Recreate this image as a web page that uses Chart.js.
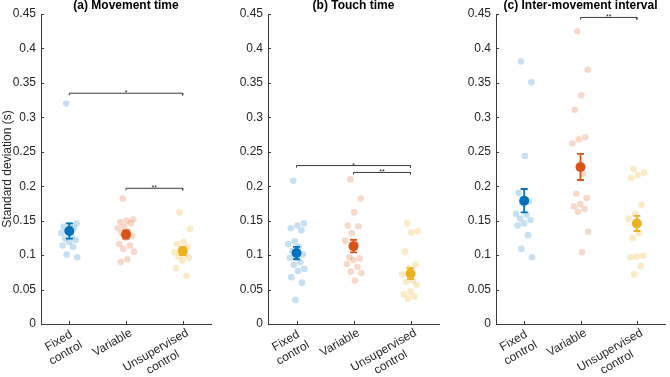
<!DOCTYPE html>
<html>
<head>
<meta charset="utf-8">
<script src="https://cdn.jsdelivr.net/npm/chart.js@4.4.0/dist/chart.umd.min.js"></script>
<style>
  body { margin: 0; background: #fff; }
  #wrap { position: relative; width: 670px; height: 377px; overflow: hidden; }
  canvas { position: absolute; top: 0; }
</style>
</head>
<body>
<div id="wrap">
  <canvas id="chartA" width="216" height="377" style="left:0px"></canvas>
  <canvas id="chartB" width="224" height="377" style="left:220px"></canvas>
  <canvas id="chartC" width="223" height="377" style="left:447px"></canvas>
</div>
<script>
// categories and panel titles
var categories = [['Fixed', 'control'], ['Variable'], ['Unsupervised', 'control']];
var titles = ['(a) Movement time', '(b) Touch time', '(c) Inter-movement interval'];

// (a) movement time, per participant SD (s)
var mtFixed = [0.320, 0.146, 0.144, 0.141, 0.139, 0.135, 0.132, 0.127, 0.124, 0.122, 0.119, 0.114, 0.112, 0.101, 0.097];
var mtVariable = [0.182, 0.152, 0.150, 0.148, 0.146, 0.141, 0.139, 0.134, 0.132, 0.128, 0.125, 0.116, 0.114, 0.109, 0.105, 0.094, 0.090];
var mtUnsup = [0.162, 0.138, 0.119, 0.116, 0.112, 0.108, 0.104, 0.101, 0.098, 0.096, 0.092, 0.081, 0.070];
var mtMeans = [0.135, 0.130, 0.106];
var mtSE = [0.011, 0.006, 0.006];
var mtBrackets = [[1, 3, 0.335, '*'], [2, 3, 0.197, '**']];

// (b) touch time
var ttFixed = [0.208, 0.146, 0.143, 0.139, 0.136, 0.120, 0.116, 0.112, 0.106, 0.101, 0.099, 0.096, 0.090, 0.086, 0.080, 0.077, 0.068, 0.060, 0.035];
var ttVariable = [0.210, 0.182, 0.162, 0.143, 0.142, 0.132, 0.121, 0.116, 0.097, 0.095, 0.093, 0.087, 0.083, 0.076, 0.074, 0.063];
var ttUnsup = [0.146, 0.135, 0.133, 0.105, 0.086, 0.081, 0.072, 0.063, 0.061, 0.057, 0.047, 0.043, 0.040, 0.037];
var ttMeans = [0.103, 0.113, 0.073];
var ttSE = [0.009, 0.009, 0.008];
var ttBrackets = [[1, 3, 0.230, '*'], [2, 3, 0.220, '**']];

// (c) inter-movement interval
var imiFixed = [0.381, 0.351, 0.244, 0.190, 0.178, 0.175, 0.160, 0.159, 0.153, 0.151, 0.146, 0.143, 0.129, 0.109, 0.097];
var imiVariable = [0.425, 0.369, 0.332, 0.311, 0.271, 0.268, 0.262, 0.218, 0.189, 0.183, 0.174, 0.171, 0.167, 0.163, 0.134, 0.104];
var imiUnsup = [0.225, 0.220, 0.216, 0.212, 0.173, 0.160, 0.153, 0.132, 0.125, 0.099, 0.098, 0.097, 0.084, 0.072];
var imiMeans = [0.179, 0.228, 0.146];
var imiSE = [0.017, 0.019, 0.011];
var imiBrackets = [[2, 3, 0.445, '**']];

var colors = ['#0072BD', '#D95319', '#EDB120'];
var lightColors = ['rgba(0,114,189,0.22)', 'rgba(217,83,25,0.22)', 'rgba(237,177,32,0.25)'];
var axisColor = '#3a3a3a';
var textColor = '#262626';
var fontFamily = "'Liberation Sans', Arial, Helvetica, sans-serif";

Chart.defaults.font.family = fontFamily;
Chart.defaults.font.size = 12;
Chart.defaults.color = textColor;

// deterministic horizontal spread of the dots
function jitter(i) {
    return ((i * 0.618034 + 0.31) % 1 - 0.5) * 0.3;
}

function makePanel(canvasId, title, groups, means, ses, brackets, axisWidth, padRight, showYTitle) {
    var datasets = [];

    // group means (drawn on top)
    datasets.push({
        type: 'scatter',
        data: means.map(function (m, i) { return { x: i + 1, y: m }; }),
        backgroundColor: colors,
        pointRadius: 5,
        pointBorderWidth: 0,
        order: 0
    });

    // significance brackets
    brackets.forEach(function (b) {
        var drop = 0.003;
        datasets.push({
            type: 'line',
            data: [{ x: b[0], y: b[2] - drop }, { x: b[0], y: b[2] }, { x: b[1], y: b[2] }, { x: b[1], y: b[2] - drop }],
            borderColor: axisColor,
            borderWidth: 1,
            pointRadius: 0,
            fill: false,
            tension: 0,
            order: 1
        });
    });

    // individual participants
    groups.forEach(function (vals, g) {
        datasets.push({
            type: 'scatter',
            data: vals.map(function (v, i) { return { x: g + 1 + jitter(i), y: v }; }),
            backgroundColor: lightColors[g],
            pointRadius: 3.3,
            pointBorderWidth: 0,
            order: 2
        });
    });

    var decor = {
        id: 'decor' + canvasId,
        afterDatasetsDraw: function (chart) {
            var ctx = chart.ctx, xs = chart.scales.x, ys = chart.scales.y;
            ctx.save();
            ctx.lineWidth = 1.8;
            means.forEach(function (m, i) {
                var px = xs.getPixelForValue(i + 1);
                var top = ys.getPixelForValue(m + ses[i]);
                var bot = ys.getPixelForValue(m - ses[i]);
                ctx.strokeStyle = colors[i];
                ctx.beginPath();
                ctx.moveTo(px, top); ctx.lineTo(px, bot);
                ctx.moveTo(px - 3.5, top); ctx.lineTo(px + 3.5, top);
                ctx.moveTo(px - 3.5, bot); ctx.lineTo(px + 3.5, bot);
                ctx.stroke();
            });
            ctx.restore();
        },
        afterDraw: function (chart) {
            var ctx = chart.ctx, xs = chart.scales.x, ys = chart.scales.y, area = chart.chartArea;
            ctx.save();
            // inward tick marks
            ctx.strokeStyle = axisColor;
            ctx.lineWidth = 1;
            ctx.beginPath();
            ys.ticks.forEach(function (t) {
                var py = Math.round(ys.getPixelForValue(t.value)) + 0.5;
                ctx.moveTo(area.left, py); ctx.lineTo(area.left + 3, py);
            });
            [1, 2, 3].forEach(function (c) {
                var px = Math.round(xs.getPixelForValue(c)) + 0.5;
                ctx.moveTo(px, area.bottom); ctx.lineTo(px, area.bottom - 3);
            });
            ctx.stroke();

            // rotated category labels
            ctx.fillStyle = textColor;
            ctx.font = '12px ' + fontFamily;
            ctx.textAlign = 'center';
            ctx.textBaseline = 'middle';
            categories.forEach(function (lines, i) {
                var px = xs.getPixelForValue(i + 1) + 5;
                var w = Math.max.apply(null, lines.map(function (l) { return ctx.measureText(l).width; }));
                ctx.save();
                ctx.translate(px, area.bottom + 8);
                ctx.rotate(-Math.PI / 6);
                lines.forEach(function (l, k) {
                    ctx.fillText(l, -w / 2, k * 14);
                });
                ctx.restore();
            });

            // stars over brackets
            ctx.font = '7px ' + fontFamily;
            ctx.textBaseline = 'alphabetic';
            brackets.forEach(function (b) {
                var px = (xs.getPixelForValue(b[0]) + xs.getPixelForValue(b[1])) / 2;
                var py = ys.getPixelForValue(b[2]) - 1;
                ctx.fillText(b[3], px, py + 3);
            });

            // panel title
            ctx.font = 'bold 12px ' + fontFamily;
            ctx.textBaseline = 'middle';
            ctx.fillStyle = '#000';
            ctx.fillText(title, (area.left + area.right) / 2, 6);
            ctx.restore();
        }
    };

    return new Chart(document.getElementById(canvasId), {
        type: 'scatter',
        data: { datasets: datasets },
        options: {
            responsive: false,
            animation: false,
            devicePixelRatio: 1,
            events: [],
            layout: { padding: { top: 14, right: padRight, bottom: 53, left: 0 } },
            plugins: { legend: { display: false }, tooltip: { enabled: false } },
            scales: {
                x: {
                    type: 'linear',
                    min: 0.5,
                    max: 3.5,
                    grid: { display: false, drawTicks: false },
                    border: { display: true, color: axisColor, width: 1 },
                    ticks: { display: false },
                    afterFit: function (axis) { axis.height = 0; }
                },
                y: {
                    min: 0,
                    max: 0.45,
                    grid: { display: false, drawTicks: false },
                    border: { display: true, color: axisColor, width: 1 },
                    ticks: {
                        stepSize: 0.05,
                        padding: 5,
                        color: textColor,
                        font: { size: 12 },
                        callback: function (v) { return String(+v.toFixed(2)); }
                    },
                    title: {
                        display: showYTitle,
                        text: 'Standard deviation (s)',
                        color: textColor,
                        font: { size: 12 },
                        padding: 0
                    },
                    afterFit: function (axis) { axis.width = axisWidth; }
                }
            }
        },
        plugins: [decor]
    });
}

makePanel('chartA', titles[0], [mtFixed, mtVariable, mtUnsup], mtMeans, mtSE, mtBrackets, 41, 3, true);
makePanel('chartB', titles[1], [ttFixed, ttVariable, ttUnsup], ttMeans, ttSE, ttBrackets, 48, 3, false);
makePanel('chartC', titles[2], [imiFixed, imiVariable, imiUnsup], imiMeans, imiSE, imiBrackets, 49, 1, false);
</script>
</body>
</html>
